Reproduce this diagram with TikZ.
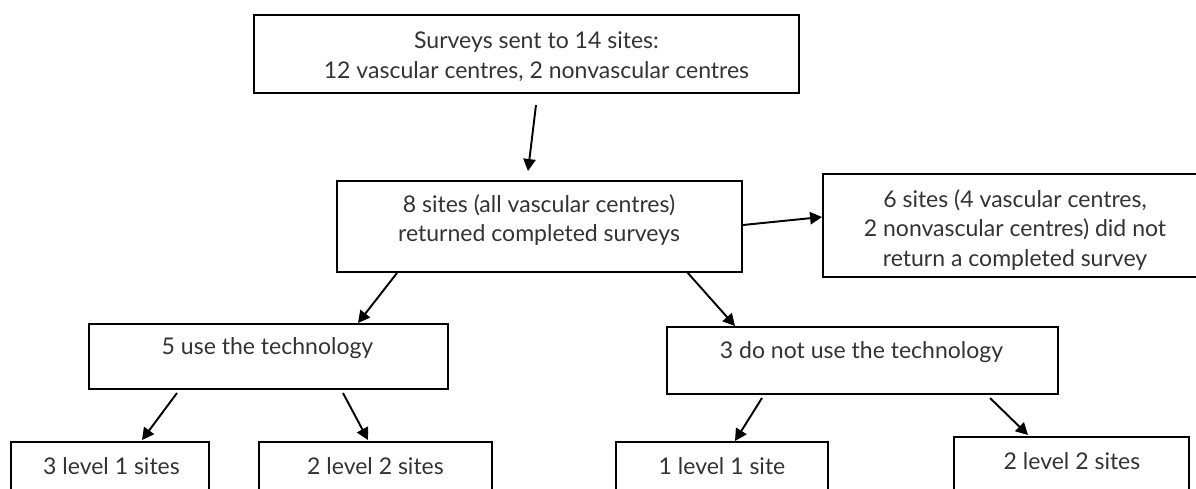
\documentclass[tikz,border=0pt]{standalone}
\usepackage{fontspec}
\setmainfont{Lato}
\usetikzlibrary{arrows.meta,positioning}
\definecolor{ink}{HTML}{333333}

\tikzset{
  box/.style 2 args={draw=black, line width=1.25pt, inner sep=0pt, outer sep=0pt,
    minimum width=#1*0.02cm, minimum height=#2*0.02cm},
  txt/.style={text=ink, align=center, inner sep=0pt, font=\fontsize{13.1}{17}\selectfont},
  arr/.style={line width=1.1pt, -{Triangle[length=6.8pt,width=7pt]}}
}

\begin{document}
\begin{tikzpicture}[x=0.02cm, y=-0.02cm]
\clip (0,0) rectangle (1196,489);
\useasboundingbox (0,0) rectangle (1196,489);

% boxes
\node[box={545}{78}]  (sent) at (526.5,54) {};
\node[box={405}{91}]  (ret)  at (539.5,226.5) {};
\node[box={384}{103}] (nonret) at (1015,225.5) {};
\node[box={359}{65}]  (use)  at (268.5,356.5) {};
\node[box={391}{67}]  (nouse) at (862.5,360.5) {};
\node[box={198}{65}]  (useA) at (110,474.5) {};
\node[box={233}{65}]  (useB) at (375.5,474.5) {};
\node[box={212}{65}]  (nouseA) at (722,474.5) {};
\node[box={235}{65}]  (nouseB) at (1071.5,469.5) {};

% texts
\node[txt] (sentT) at (536.5,56.5) {Surveys sent to 14 sites:\\12 vascular centres, 2 nonvascular centres};
\node[txt] (retT) at (539,220) {8 sites (all vascular centres)\\returned completed surveys};
\node[txt] (nonretT) at (1015,230) {6 sites (4 vascular centres,\\2 nonvascular centres) did not\\return a completed survey};
\node[txt] (useT) at (267.5,348) {5 use the technology};
\node[txt] (nouseT) at (861.5,352) {3 do not use the technology};
\node[txt] (useAT) at (111.5,466) {3 level 1 sites};
\node[txt] (useBT) at (375.5,466) {2 level 2 sites};
\node[txt] (nouseAT) at (722,466) {1 level 1 site};
\node[txt] (nouseBT) at (1072,461) {2 level 2 sites};

% arrows
\draw[arr] ([shift={(9.5,12)}]sent.south) -- ([shift={(-11.5,-10)}]ret.north);
\draw[arr] ([shift={(1,-1.5)}]ret.east) -- ([shift={(-1,-8.5)}]nonret.west);
\draw[arr] ([shift={(-142.5,1)}]ret.south) -- ([shift={(89.5,-1)}]use.north);
\draw[arr] ([shift={(147.5,0)}]ret.south) -- ([shift={(-127.5,-1)}]nouse.north);
\draw[arr] ([shift={(-91.5,4)}]use.south) -- ([shift={(32,-2)}]useA.north);
\draw[arr] ([shift={(74.5,4)}]use.south) -- ([shift={(-7.5,-2)}]useB.north);
\draw[arr] ([shift={(-100.5,4)}]nouse.south) -- ([shift={(13,-1)}]nouseA.north);
\draw[arr] ([shift={(127.5,4)}]nouse.south) -- ([shift={(-43.5,-2)}]nouseB.north);
\end{tikzpicture}
\end{document}
